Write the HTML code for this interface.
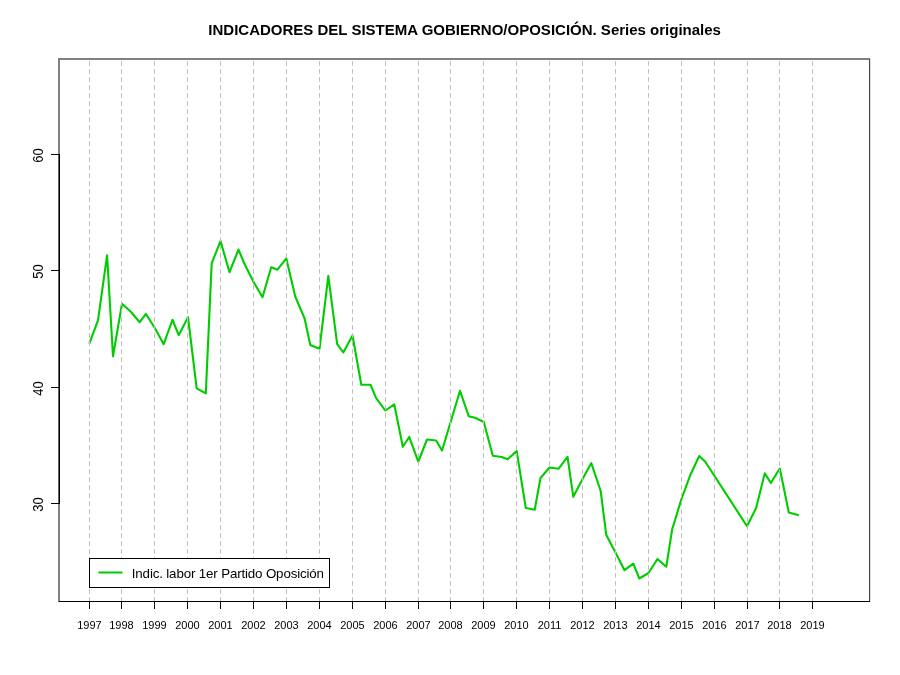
<!DOCTYPE html>
<html lang="es"><head><meta charset="utf-8"><title>Indicadores del sistema gobierno/oposición</title>
<style>
html,body{margin:0;padding:0;background:#fff;}
body{width:900px;height:675px;overflow:hidden;}
svg{display:block;will-change:transform;}
text{font-family:"Liberation Sans",Arial,sans-serif;fill:#000;}
</style></head><body>
<svg width="900" height="675" viewBox="0 0 900 675">
<rect width="900" height="675" fill="#fff"/>

<polyline points="89.3,343.7 98.0,320.3 107.1,255.2 113.0,356.3 122.0,303.75 130.8,311.7 139.7,322.2 146.0,313.95 154.5,327.5 163.7,344.2 172.5,319.75 178.7,335.2 188,317.25 196.7,388.3 205.8,393.3 211.7,263.3 220.5,241.05 229.5,272.2 238.5,249.55 245,265 253.3,281.5 262.5,297.2 271.2,267.25 277.5,269.7 286.3,258.45 295.3,296.7 304.6,318.5 310.3,345 319.5,348.8 328.3,275.8 337.2,344.2 343.3,352.5 352.5,335.45 361.3,384.7 370.5,384.7 376.0,397.8 385.3,410.5 394.3,404.45 402.8,446.8 409.2,436.95 418.3,461.6 427,439.5 436.2,440.5 442,450.5 450.5,422.5 460,390.75 468.7,416.2 475,417.8 483.8,422 492.8,455.8 501.7,457 507.7,459.2 516.7,451.05 525.8,508 534.7,509.7 540.5,478 549.5,467.5 558.7,468.7 567.5,456.75 573.3,496.8 582.3,479.5 591.3,463.05 600.7,491 606.2,534.7 615.5,552.5 624.5,570.2 633.3,563.55 639.3,578.5 648.5,573 657.5,558.95 666.3,566.7 672.2,529.2 681.3,499.5 690,475.8 699.2,456.05 705.3,461.7 747,526.2 756.2,507.8 764.8,473.25 770.8,483.0 779.8,468.55 788.8,512.5 798.9,515.2" fill="none" stroke="#00cd00" stroke-width="2.1" stroke-linejoin="round" stroke-linecap="butt"/>
<g stroke="#bebebe" stroke-width="1" stroke-dasharray="4.7 3.3" fill="none">
<line x1="89.5" y1="61.1" x2="89.5" y2="601"/>
<line x1="121.5" y1="61.1" x2="121.5" y2="601"/>
<line x1="154.5" y1="61.1" x2="154.5" y2="601"/>
<line x1="187.5" y1="61.1" x2="187.5" y2="601"/>
<line x1="220.5" y1="61.1" x2="220.5" y2="601"/>
<line x1="253.5" y1="61.1" x2="253.5" y2="601"/>
<line x1="286.5" y1="61.1" x2="286.5" y2="601"/>
<line x1="319.5" y1="61.1" x2="319.5" y2="601"/>
<line x1="352.5" y1="61.1" x2="352.5" y2="601"/>
<line x1="385.5" y1="61.1" x2="385.5" y2="601"/>
<line x1="418.5" y1="61.1" x2="418.5" y2="601"/>
<line x1="450.5" y1="61.1" x2="450.5" y2="601"/>
<line x1="483.5" y1="61.1" x2="483.5" y2="601"/>
<line x1="516.5" y1="61.1" x2="516.5" y2="601"/>
<line x1="549.5" y1="61.1" x2="549.5" y2="601"/>
<line x1="582.5" y1="61.1" x2="582.5" y2="601"/>
<line x1="615.5" y1="61.1" x2="615.5" y2="601"/>
<line x1="648.5" y1="61.1" x2="648.5" y2="601"/>
<line x1="681.5" y1="61.1" x2="681.5" y2="601"/>
<line x1="714.5" y1="61.1" x2="714.5" y2="601"/>
<line x1="747.5" y1="61.1" x2="747.5" y2="601"/>
<line x1="779.5" y1="61.1" x2="779.5" y2="601"/>
<line x1="812.5" y1="61.1" x2="812.5" y2="601"/>
</g>
<g shape-rendering="crispEdges">
<rect x="58" y="58" width="2" height="544" fill="#808080"/>
<rect x="58" y="58" width="812" height="2" fill="#808080"/>
<rect x="869" y="59" width="1" height="543" fill="#444"/>
<rect x="870" y="59" width="1" height="543" fill="#dcdcdc"/>
<rect x="59" y="601" width="811" height="1" fill="#000"/>
<rect x="89" y="601" width="1" height="8" fill="#000"/>
<rect x="121" y="601" width="1" height="8" fill="#000"/>
<rect x="154" y="601" width="1" height="8" fill="#000"/>
<rect x="187" y="601" width="1" height="8" fill="#000"/>
<rect x="220" y="601" width="1" height="8" fill="#000"/>
<rect x="253" y="601" width="1" height="8" fill="#000"/>
<rect x="286" y="601" width="1" height="8" fill="#000"/>
<rect x="319" y="601" width="1" height="8" fill="#000"/>
<rect x="352" y="601" width="1" height="8" fill="#000"/>
<rect x="385" y="601" width="1" height="8" fill="#000"/>
<rect x="418" y="601" width="1" height="8" fill="#000"/>
<rect x="450" y="601" width="1" height="8" fill="#000"/>
<rect x="483" y="601" width="1" height="8" fill="#000"/>
<rect x="516" y="601" width="1" height="8" fill="#000"/>
<rect x="549" y="601" width="1" height="8" fill="#000"/>
<rect x="582" y="601" width="1" height="8" fill="#000"/>
<rect x="615" y="601" width="1" height="8" fill="#000"/>
<rect x="648" y="601" width="1" height="8" fill="#000"/>
<rect x="681" y="601" width="1" height="8" fill="#000"/>
<rect x="714" y="601" width="1" height="8" fill="#000"/>
<rect x="747" y="601" width="1" height="8" fill="#000"/>
<rect x="779" y="601" width="1" height="8" fill="#000"/>
<rect x="812" y="601" width="1" height="8" fill="#000"/>
<rect x="58" y="154" width="1" height="350" fill="#646464"/>
<rect x="59" y="154" width="1" height="350" fill="#000"/>
<rect x="51" y="154" width="8" height="1" fill="#000"/>
<rect x="51" y="270" width="8" height="1" fill="#000"/>
<rect x="51" y="387" width="8" height="1" fill="#000"/>
<rect x="51" y="503" width="8" height="1" fill="#000"/>
</g>
<g font-size="11" text-anchor="middle">
<text x="89.5" y="629">1997</text>
<text x="121.5" y="629">1998</text>
<text x="154.5" y="629">1999</text>
<text x="187.5" y="629">2000</text>
<text x="220.5" y="629">2001</text>
<text x="253.5" y="629">2002</text>
<text x="286.5" y="629">2003</text>
<text x="319.5" y="629">2004</text>
<text x="352.5" y="629">2005</text>
<text x="385.5" y="629">2006</text>
<text x="418.5" y="629">2007</text>
<text x="450.5" y="629">2008</text>
<text x="483.5" y="629">2009</text>
<text x="516.5" y="629">2010</text>
<text x="549.5" y="629">2011</text>
<text x="582.5" y="629">2012</text>
<text x="615.5" y="629">2013</text>
<text x="648.5" y="629">2014</text>
<text x="681.5" y="629">2015</text>
<text x="714.5" y="629">2016</text>
<text x="747.5" y="629">2017</text>
<text x="779.5" y="629">2018</text>
<text x="812.5" y="629">2019</text>
</g>
<g font-size="14" text-anchor="middle">
<text transform="translate(43,155.6) rotate(-90)" textLength="14.4" lengthAdjust="spacingAndGlyphs">60</text>
<text transform="translate(43,271.6) rotate(-90)" textLength="14.4" lengthAdjust="spacingAndGlyphs">50</text>
<text transform="translate(43,388.6) rotate(-90)" textLength="14.4" lengthAdjust="spacingAndGlyphs">40</text>
<text transform="translate(43,504.6) rotate(-90)" textLength="14.4" lengthAdjust="spacingAndGlyphs">30</text>
</g>
<text x="208.3" y="35" font-size="15" font-weight="bold" textLength="512.6" lengthAdjust="spacing">INDICADORES DEL SISTEMA GOBIERNO/OPOSICIÓN. Series originales</text>
<g shape-rendering="crispEdges"><rect x="89.5" y="558.5" width="240" height="29" fill="#fff" stroke="#000" stroke-width="1"/></g>
<line x1="99.3" y1="572.5" x2="121.7" y2="572.5" stroke="#00cd00" stroke-width="2.1" stroke-linecap="round"/>
<text x="131.8" y="577.8" font-size="13.33" textLength="192.2" lengthAdjust="spacing">Indic. labor 1er Partido Oposición</text>
</svg></body></html>
